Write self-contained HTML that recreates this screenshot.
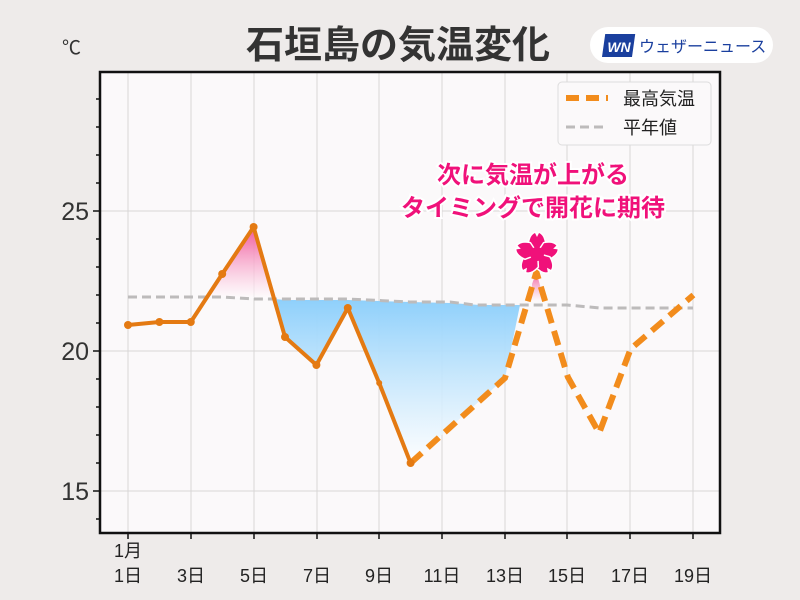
<!DOCTYPE html><html><head><meta charset="utf-8"><style>
body{margin:0;background:#eeebea;}
svg{display:block;font-family:"Liberation Sans","Noto Sans CJK JP",sans-serif;}
</style></head><body>
<svg width="800" height="600" viewBox="0 0 800 600">
<defs>
<linearGradient id="pk" x1="0" y1="0" x2="0" y2="1"><stop offset="0" stop-color="#f0559a"/><stop offset="1" stop-color="#fff" stop-opacity="0.6"/></linearGradient>
<linearGradient id="bl" gradientUnits="userSpaceOnUse" x1="0" y1="300" x2="0" y2="465"><stop offset="0" stop-color="#8fd0fb"/><stop offset="1" stop-color="#fff" stop-opacity="0.8"/></linearGradient>
</defs>
<rect width="800" height="600" fill="#eeebea"/>
<text x="398" y="58" text-anchor="middle" font-size="38" font-weight="bold" fill="#333">石垣島の気温変化</text>
<rect x="590" y="27" width="183" height="36" rx="18" fill="#fff"/>
<rect x="604" y="34" width="30" height="23" fill="#1a3f9e" transform="skewX(-8) translate(6,0)"/>
<text x="619" y="52" text-anchor="middle" font-size="14" font-weight="bold" font-style="italic" fill="#fff">WN</text>
<text x="639" y="52" font-size="16" fill="#1a3f9e">ウェザーニュース</text>
<text x="62" y="54" font-size="19" fill="#333">℃</text>
<rect x="100" y="72" width="620" height="461" fill="#fbf9fa"/>
<g stroke="#d8d6d6" stroke-width="1">
<line x1="128" y1="72" x2="128" y2="533"/><line x1="191" y1="72" x2="191" y2="533"/><line x1="254" y1="72" x2="254" y2="533"/><line x1="317" y1="72" x2="317" y2="533"/><line x1="379" y1="72" x2="379" y2="533"/><line x1="442" y1="72" x2="442" y2="533"/><line x1="505" y1="72" x2="505" y2="533"/><line x1="567" y1="72" x2="567" y2="533"/><line x1="630" y1="72" x2="630" y2="533"/><line x1="693" y1="72" x2="693" y2="533"/>
<line x1="100" y1="211" x2="720" y2="211"/><line x1="100" y1="351" x2="720" y2="351"/><line x1="100" y1="491" x2="720" y2="491"/>
</g>
<polygon points="207,297 222,274 253.6,227 274,299 254,298 222,297" fill="url(#pk)"/>
<polygon points="274,299 285,300 348,300 410,302 450,303 480,305 520,305 505,378 410.6,463 379,383 347.8,308 316.4,365 285,337" fill="url(#bl)"/>
<polygon points="532,284 536.4,272 544,300 532,302" fill="url(#pk)"/>
<polyline points="128,297 222,297 254,299 348,299 410,302 450,302 475,305 567,305 600,308 693,308" fill="none" stroke="#bdbbbb" stroke-width="3" stroke-dasharray="9,5"/>
<polyline points="410.6,463 505,378 536.4,272 567.8,377 599.2,433 630.6,349 693.4,295" fill="none" stroke="#f28c1c" stroke-width="6" stroke-dasharray="15,8"/>
<polyline points="128,325 159.4,322 190.8,322 222.2,274 253.6,227 285,337 316.4,365 347.8,308 379.2,383 410.6,463" fill="none" stroke="#e47a12" stroke-width="4" stroke-linejoin="round"/>
<g fill="#e47a12"><circle cx="128" cy="325" r="4"/><circle cx="159.4" cy="322" r="4"/><circle cx="190.8" cy="322" r="4"/><circle cx="222.2" cy="274" r="4"/><circle cx="253.6" cy="227" r="4"/><circle cx="285" cy="337" r="4"/><circle cx="316.4" cy="365" r="4"/><circle cx="347.8" cy="308" r="4"/><circle cx="379.2" cy="383" r="3"/><circle cx="410.6" cy="463" r="4"/></g>
<g transform="translate(537,254)" fill="#f0117a" stroke="#fff" stroke-width="3" paint-order="stroke">
<g id="pt"><path d="M0,0 L-8,-10 Q-7,-19 -2,-21 L0,-17 L2,-21 Q7,-19 8,-10 Z"/></g>
<use href="#pt" transform="rotate(72)"/><use href="#pt" transform="rotate(144)"/><use href="#pt" transform="rotate(216)"/><use href="#pt" transform="rotate(288)"/>
<circle r="7" stroke="none"/>
</g>
<rect x="100" y="72" width="620" height="461" fill="none" stroke="#111" stroke-width="2.5"/>
<g stroke="#111" stroke-width="1.5">
<line x1="93" y1="211" x2="100" y2="211"/><line x1="93" y1="351" x2="100" y2="351"/><line x1="93" y1="491" x2="100" y2="491"/>
<line x1="96" y1="99" x2="100" y2="99"/><line x1="96" y1="127" x2="100" y2="127"/><line x1="96" y1="155" x2="100" y2="155"/><line x1="96" y1="183" x2="100" y2="183"/>
<line x1="96" y1="239" x2="100" y2="239"/><line x1="96" y1="267" x2="100" y2="267"/><line x1="96" y1="295" x2="100" y2="295"/><line x1="96" y1="323" x2="100" y2="323"/>
<line x1="96" y1="379" x2="100" y2="379"/><line x1="96" y1="407" x2="100" y2="407"/><line x1="96" y1="435" x2="100" y2="435"/><line x1="96" y1="463" x2="100" y2="463"/>
<line x1="96" y1="519" x2="100" y2="519"/>
<line x1="128" y1="533" x2="128" y2="539"/><line x1="191" y1="533" x2="191" y2="539"/><line x1="254" y1="533" x2="254" y2="539"/><line x1="317" y1="533" x2="317" y2="539"/><line x1="379" y1="533" x2="379" y2="539"/><line x1="442" y1="533" x2="442" y2="539"/><line x1="505" y1="533" x2="505" y2="539"/><line x1="567" y1="533" x2="567" y2="539"/><line x1="630" y1="533" x2="630" y2="539"/><line x1="693" y1="533" x2="693" y2="539"/>
</g>
<g font-size="25" fill="#333" text-anchor="end"><text x="89" y="220">25</text><text x="89" y="360">20</text><text x="89" y="500">15</text></g>
<g font-size="18" fill="#222" text-anchor="middle">
<text x="128" y="557">1月</text><text x="128" y="582">1日</text><text x="191" y="582">3日</text><text x="254" y="582">5日</text><text x="317" y="582">7日</text><text x="379" y="582">9日</text><text x="442" y="582">11日</text><text x="505" y="582">13日</text><text x="567" y="582">15日</text><text x="630" y="582">17日</text><text x="693" y="582">19日</text>
</g>
<rect x="558" y="82" width="153" height="63" rx="4" fill="#fbf9fa" stroke="#ddd"/>
<line x1="566" y1="98" x2="608" y2="98" stroke="#f28c1c" stroke-width="6" stroke-dasharray="13,7"/>
<line x1="566" y1="127" x2="608" y2="127" stroke="#bdbbbb" stroke-width="3" stroke-dasharray="9,5"/>
<text x="623" y="105" font-size="18" fill="#222">最高気温</text>
<text x="623" y="134" font-size="18" fill="#222">平年値</text>
<g font-size="24" font-weight="bold" fill="#f0117a" text-anchor="middle" stroke="#fff" stroke-width="4" paint-order="stroke">
<text x="533" y="183">次に気温が上がる</text><text x="533" y="216">タイミングで開花に期待</text>
</g>
</svg>
</body></html>
